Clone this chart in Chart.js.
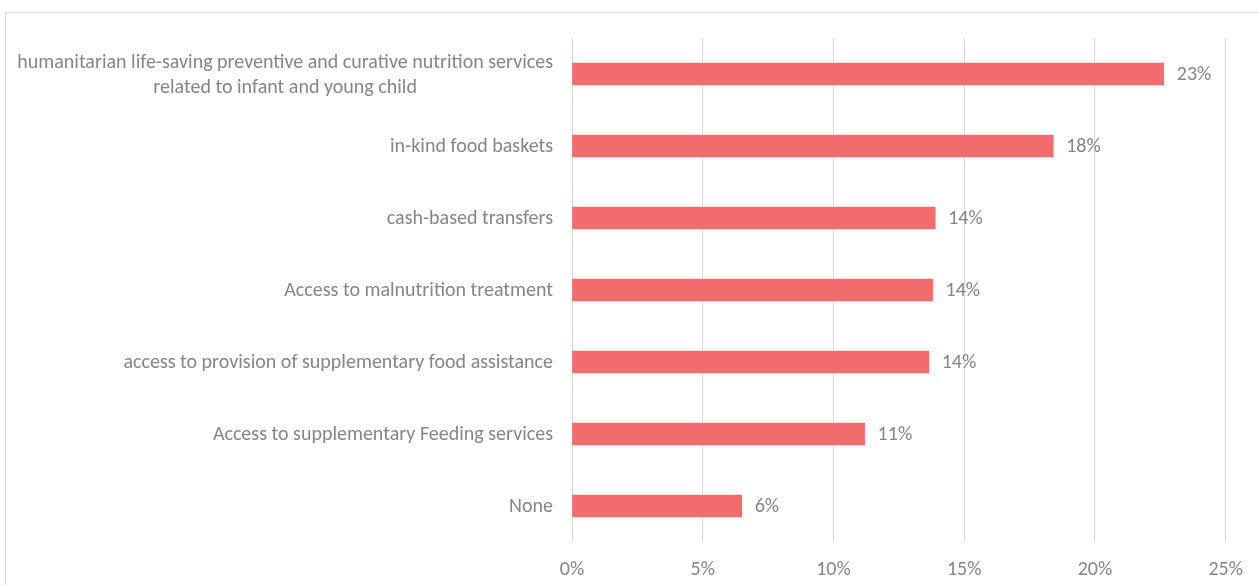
<!DOCTYPE html>
<html>
<head>
<meta charset="utf-8">
<script src="https://cdn.jsdelivr.net/npm/chart.js@4/dist/chart.umd.min.js"></script>
<style>
  html, body { margin: 0; padding: 0; background: #ffffff; }
  #wrap { position: relative; width: 1259px; height: 585px; }
</style>
</head>
<body>
<div id="wrap"><canvas id="c" width="1259" height="585"></canvas></div>
<script>
const categories = [
  ["humanitarian life-saving preventive and curative nutrition services", "related to infant and young child"],
  "in-kind food baskets",
  "cash-based transfers",
  "Access to malnutrition treatment",
  "access to provision of supplementary food assistance",
  "Access to supplementary Feeding services",
  "None"
];
const values = [22.63, 18.40, 13.89, 13.79, 13.64, 11.19, 6.49];
const valueLabels = ["23%", "18%", "14%", "14%", "14%", "11%", "6%"];
const xTicks = [0, 5, 10, 15, 20, 25];

const FONT = "Carlito, Calibri, Lato, 'Open Sans', sans-serif";
const TEXT = "#868686";
const FSIZE = 20;
const LINE_H = 25;

const frame = {
  id: 'frame',
  beforeDraw(chart) {
    const ctx = chart.ctx;
    ctx.save();
    ctx.fillStyle = '#ffffff';
    ctx.fillRect(0, 0, chart.width, chart.height);
    ctx.strokeStyle = '#d9d9d9';
    ctx.lineWidth = 1;
    ctx.strokeRect(5.5, 12.5, chart.width + 10, chart.height + 10);
    ctx.restore();
  }
};

// Category labels: right-aligned block, each line centred within the block
const categoryLabels = {
  id: 'categoryLabels',
  afterDraw(chart) {
    const ctx = chart.ctx;
    const yScale = chart.scales.y;
    const right = chart.chartArea.left - 19;
    ctx.save();
    ctx.font = FSIZE + "px " + FONT;
    ctx.fillStyle = TEXT;
    ctx.textAlign = 'center';
    ctx.textBaseline = 'middle';
    categories.forEach((lab, i) => {
      const lines = Array.isArray(lab) ? lab : [lab];
      const w = Math.max(...lines.map(l => ctx.measureText(l).width));
      const cx = right - w / 2;
      const cy = yScale.getPixelForTick(i);
      const y0 = cy - (lines.length - 1) * LINE_H / 2;
      lines.forEach((l, k) => ctx.fillText(l, cx, y0 + k * LINE_H + 1));
    });
    ctx.restore();
  }
};

const valueLabelPlugin = {
  id: 'valueLabels',
  afterDatasetsDraw(chart) {
    const ctx = chart.ctx;
    const meta = chart.getDatasetMeta(0);
    ctx.save();
    ctx.font = FSIZE + "px " + FONT;
    ctx.fillStyle = TEXT;
    ctx.textAlign = 'left';
    ctx.textBaseline = 'middle';
    meta.data.forEach((bar, i) => {
      ctx.fillText(valueLabels[i], bar.x + 13, bar.y + 1);
    });
    ctx.restore();
  }
};

new Chart(document.getElementById('c'), {
  type: 'bar',
  data: {
    labels: categories,
    datasets: [{
      data: values,
      backgroundColor: '#f26c6c',
      borderWidth: 0,
      barThickness: 22
    }]
  },
  options: {
    indexAxis: 'y',
    responsive: false,
    animation: false,
    devicePixelRatio: 1,
    layout: { padding: { left: 0, right: 32, top: 38, bottom: 0 } },
    plugins: {
      legend: { display: false },
      tooltip: { enabled: false }
    },
    scales: {
      x: {
        min: 0,
        max: 25,
        afterBuildTicks(scale) { scale.ticks = xTicks.map(v => ({ value: v })); },
        afterFit(scale) { scale.height = 43; },
        grid: { color: '#d9d9d9', lineWidth: 1, drawTicks: false },
        border: { display: false },
        ticks: {
          padding: 16,
          color: TEXT,
          font: { family: FONT, size: FSIZE },
          callback: v => v + '%'
        }
      },
      y: {
        afterFit(scale) { scale.width = 572; },
        grid: { display: false, drawTicks: false },
        border: { display: false },
        ticks: { display: false }
      }
    }
  },
  plugins: [frame, categoryLabels, valueLabelPlugin]
});
</script>
</body>
</html>
